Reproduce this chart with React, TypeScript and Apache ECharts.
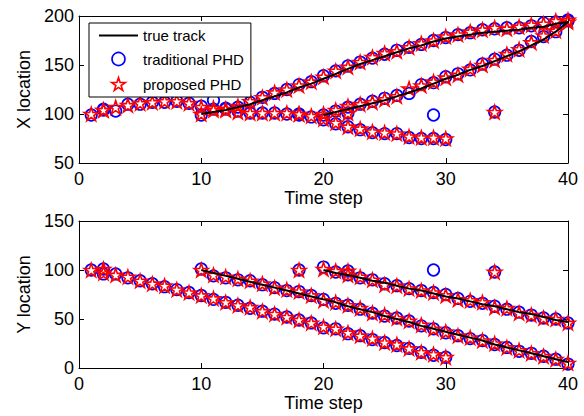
import React, { useEffect, useRef } from "react";
import * as echarts from "echarts";

// ---- X location (top panel) ----
const track1Start = 1;
const propX1 = [100, 104, 107, 109, 111, 112, 113, 113, 111, 107, 106, 104, 102, 101, 101, 101, 101, 100, 98, 95, 91, 87, 85, 82, 81, 80, 77, 76, 76, 75];
const tradX1 = [99, 105, 103, 110, 110, 112, 112, 113, 111, 108, 105, 105, 103, 101, 101, 101, 100, 99, 97, 94, 90, 87, 84, 81, 80, 80, 76, 75, 75, 74];
const track2Start = 10;
const propX2 = [100, 104, 105, 108, 113, 117, 122, 125, 129, 133, 138, 144, 148, 153, 158, 162, 164, 168, 172, 175, 179, 181, 184, 186, 188, 187, 189, 191, 192, 195, 196];
const tradX2 = [99, 114, 106, 107, 112, 117, 121, 125, 130, 133, 139, 144, 149, 153, 157, 161, 165, 168, 171, 175, 178, 181, 183, 186, 187, 188, 188, 190, 193, 194, 196];
const truthX2 = [100, 102, 104, 107, 110, 114, 118, 122, 127, 131, 136, 141, 146, 151, 155, 159, 163, 167, 170, 174, 177, 179, 181, 183, 184, 185, 186, 188, 189, 192, 194];
const track3Start = 20;
const propX3 = [100, 104, 108, 110, 112, 115, 118, 126, 129, 133, 137, 140, 146, 150, 155, 161, 166, 173, 180, 185, 194];
const tradX3 = [99, 103, 107, 110, 113, 116, 119, 121, 130, 132, 138, 141, 145, 151, 156, 160, 165, 174, 179, 184, 195];
const truthX3 = [99, 102, 105, 108, 111, 114, 118, 122, 126, 131, 136, 140, 145, 149, 154, 159, 164, 170, 176, 184, 194];

// ---- Y location (bottom panel) ----
const propY1 = [100, 97, 95, 93, 89, 86, 84, 80, 77, 74, 71, 67, 64, 62, 58, 55, 52, 49, 46, 42, 40, 36, 33, 30, 26, 24, 20, 16, 14, 11];
const tradY1 = [100, 96, 96, 92, 89, 86, 83, 80, 77, 74, 70, 67, 64, 61, 58, 55, 52, 49, 46, 41, 40, 35, 33, 29, 26, 23, 20, 16, 13, 11];
const propY2 = [100, 95, 93, 91, 89, 86, 82, 80, 78, 74, 69, 67, 64, 61, 56, 54, 51, 48, 44, 40, 37, 33, 31, 28, 25, 21, 18, 15, 12, 9, 5];
const tradY2 = [101, 94, 92, 90, 89, 85, 82, 79, 78, 74, 70, 66, 64, 60, 56, 53, 51, 48, 43, 40, 36, 33, 30, 28, 24, 21, 17, 15, 12, 9, 4];
const truthY2 = [100, 97, 94, 91, 88, 85, 82, 79, 76, 73, 70, 67, 63, 60, 57, 53, 50, 47, 43, 40, 37, 34, 31, 28, 24, 21, 18, 15, 12, 9, 6];
const propY3 = [101, 99, 95, 93, 90, 85, 84, 81, 79, 77, 74, 70, 69, 67, 62, 61, 56, 54, 51, 50, 46];
const tradY3 = [103, 98, 95, 92, 90, 86, 84, 81, 79, 77, 75, 71, 68, 66, 63, 60, 57, 54, 51, 50, 46];
const truthY3 = [100, 97, 95, 92, 89, 87, 84, 81, 79, 76, 73, 71, 68, 65, 63, 60, 57, 55, 52, 49, 47];

// ---- clutter / extra estimates ----
const tradExtraT = [2, 18, 22, 29, 34];
const tradExtraX = [104, 100, 101, 99, 102];
const tradExtraY = [101, 100, 99, 100, 98];
const propExtraT = [2, 18, 22, 34];
const propExtraX = [104, 100, 101, 102];
const propExtraY = [101, 100, 99, 98];

const xTicks = [0, 10, 20, 30, 40];

const FONT = "'Liberation Sans', Arial, sans-serif";
const STAR =
  "path://M0,-10L2.245,-3.09L9.511,-3.09L3.633,1.18L5.878,8.09L0,3.82L-5.878,8.09L-3.633,1.18L-9.511,-3.09L-2.245,-3.09Z";

const zip = (start: number, vals: number[]) => vals.map((v, i) => [start + i, v]);
const zipT = (ts: number[], vals: number[]) => vals.map((v, i) => [ts[i], v]);

export default function App() {
  const ref = useRef<HTMLDivElement>(null);
  useEffect(() => {
    if (!ref.current) return;
    const chart = echarts.init(ref.current, undefined, { renderer: "svg" });

    const axisLine = { show: true, onZero: false, lineStyle: { color: "#000", width: 1 } };
    const axisTick = { show: true, inside: true, length: 5, lineStyle: { color: "#000", width: 1 } };
    const label = { color: "#000", fontSize: 18, fontFamily: FONT, showMinLabel: true, showMaxLabel: true };
    const nameStyle = { color: "#000", fontSize: 18, fontFamily: FONT };

    const xMain = (gridIndex: number) => ({
      type: "value",
      gridIndex,
      position: "bottom",
      min: xTicks[0],
      max: xTicks[xTicks.length - 1],
      interval: 10,
      axisLine,
      axisTick,
      axisLabel: { ...label, margin: 7 },
      splitLine: { show: false },
      name: "Time step",
      nameLocation: "middle",
      nameGap: 26,
      nameTextStyle: nameStyle,
    });
    const xTop = (gridIndex: number) => ({
      type: "value",
      gridIndex,
      position: "top",
      min: 0,
      max: 40,
      interval: 10,
      axisLine,
      axisTick,
      axisLabel: { show: false },
      splitLine: { show: false },
    });
    const yMain = (gridIndex: number, min: number, max: number, name: string) => ({
      type: "value",
      gridIndex,
      position: "left",
      min,
      max,
      interval: 50,
      axisLine,
      axisTick,
      axisLabel: { ...label, margin: 5 },
      splitLine: { show: false },
      name,
      nameLocation: "middle",
      nameGap: 46,
      nameTextStyle: nameStyle,
    });
    const yRight = (gridIndex: number, min: number, max: number) => ({
      type: "value",
      gridIndex,
      position: "right",
      min,
      max,
      interval: 50,
      axisLine,
      axisTick,
      axisLabel: { show: false },
      splitLine: { show: false },
    });

    const trad = (xi: number, yi: number, data: number[][]) => ({
      type: "scatter",
      name: "traditional PHD",
      xAxisIndex: xi,
      yAxisIndex: yi,
      data,
      symbol: "circle",
      symbolSize: 11.5,
      itemStyle: { color: "none", borderColor: "#0000ff", borderWidth: 1.7, opacity: 1 },
      z: 2,
      silent: true,
    });
    const prop = (xi: number, yi: number, data: number[][]) => ({
      type: "scatter",
      name: "proposed PHD",
      xAxisIndex: xi,
      yAxisIndex: yi,
      data,
      symbol: STAR,
      symbolKeepAspect: true,
      symbolSize: 14,
      itemStyle: { color: "none", borderColor: "#ff0000", borderWidth: 1.6, opacity: 1 },
      z: 3,
      silent: true,
    });
    const truth = (xi: number, yi: number, data: number[][]) => ({
      type: "line",
      name: "true track",
      xAxisIndex: xi,
      yAxisIndex: yi,
      data,
      symbol: "none",
      showSymbol: false,
      lineStyle: { color: "#000", width: 2 },
      itemStyle: { color: "rgba(0,0,0,0)", borderColor: "rgba(0,0,0,0)", borderWidth: 0 },
      z: 4,
      silent: true,
    });

    const tradTop = [...zip(track1Start, tradX1), ...zip(track2Start, tradX2), ...zip(track3Start, tradX3), ...zipT(tradExtraT, tradExtraX)];
    const propTop = [...zip(track1Start, propX1), ...zip(track2Start, propX2), ...zip(track3Start, propX3), ...zipT(propExtraT, propExtraX)];
    const tradBot = [...zip(track1Start, tradY1), ...zip(track2Start, tradY2), ...zip(track3Start, tradY3), ...zipT(tradExtraT, tradExtraY)];
    const propBot = [...zip(track1Start, propY1), ...zip(track2Start, propY2), ...zip(track3Start, propY3), ...zipT(propExtraT, propExtraY)];

    chart.setOption({
      animation: false,
      backgroundColor: "#fff",
      grid: [
        { left: 79, top: 16, width: 489, height: 147 },
        { left: 79, top: 221, width: 489, height: 147 },
      ],
      xAxis: [xMain(0), xTop(0), xMain(1), xTop(1)],
      yAxis: [yMain(0, 50, 200, "X location"), yRight(0, 50, 200), yMain(1, 0, 150, "Y location"), yRight(1, 0, 150)],
      legend: {
        show: true,
        orient: "vertical",
        left: 89,
        top: 23,
        data: [
          { name: "true track", itemStyle: { color: "rgba(0,0,0,0)", borderColor: "rgba(0,0,0,0)", borderWidth: 0 } },
          { name: "traditional PHD" },
          { name: "proposed PHD" },
        ],
        backgroundColor: "#fff",
        borderColor: "#000",
        borderWidth: 1,
        borderRadius: 0,
        padding: [5, 7, 4, 9],
        itemWidth: 39,
        itemHeight: 13,
        itemGap: 7,
        selectedMode: false,
        symbolKeepAspect: true,
        itemStyle: { borderWidth: 1.6 },
        textStyle: { fontSize: 15, color: "#000", fontFamily: FONT },
        z: 10,
      },
      series: [
        trad(0, 0, tradTop),
        prop(0, 0, propTop),
        truth(0, 0, zip(track2Start, truthX2)),
        truth(0, 0, zip(track3Start, truthX3)),
        trad(2, 2, tradBot),
        prop(2, 2, propBot),
        truth(2, 2, zip(track2Start, truthY2)),
        truth(2, 2, zip(track3Start, truthY3)),
      ],
    });
    return () => chart.dispose();
  }, []);
  return <div ref={ref} style={{ position: "absolute", left: 0, top: 0, width: 584, height: 416 }} />;
}
